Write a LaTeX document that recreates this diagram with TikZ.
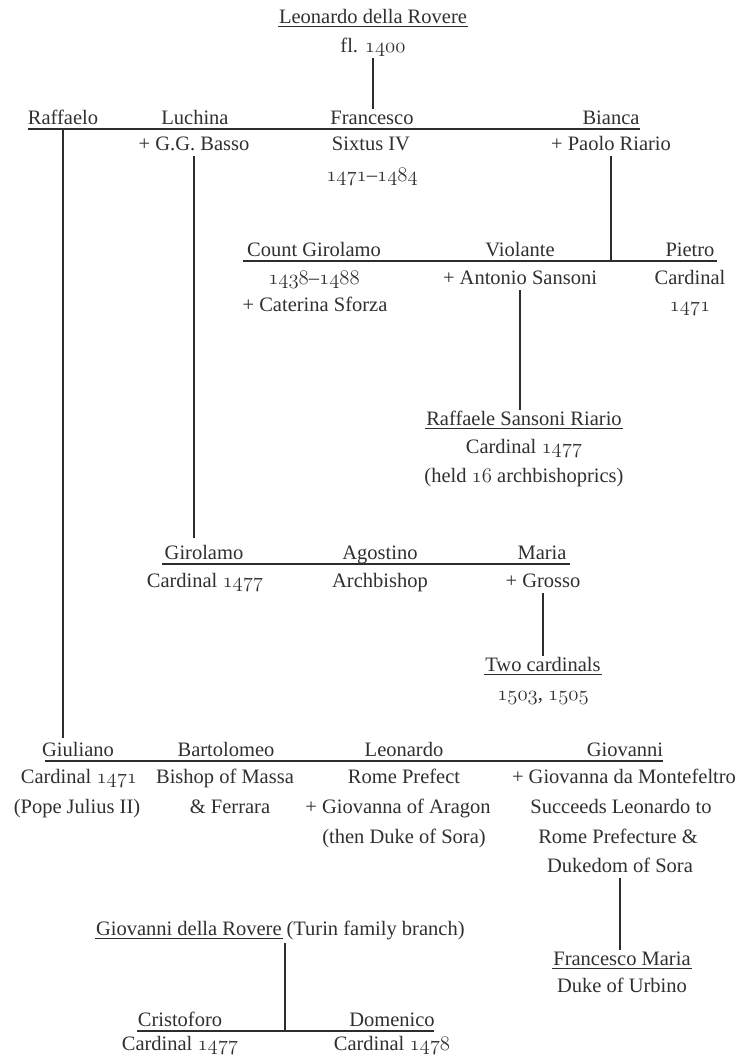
\documentclass[tikz,border=0pt]{standalone}
\usepackage{fontspec}
\setmainfont{Liberation Serif}
\definecolor{txt}{RGB}{48,48,48}
\definecolor{rulec}{RGB}{45,45,45}
\newcommand\os[1]{{\usefont{OML}{lmm}{b}{it}#1}}
\begin{document}
\begin{tikzpicture}[x=1pt,y=-1pt,
  t/.style={anchor=base, inner sep=1pt, outer sep=0pt, text height=14pt, text depth=5pt,
            font=\fontsize{20.5}{24}\selectfont, text=txt},
  rule/.style={draw=rulec, line width=1.6pt},
  conn/.style={draw=rulec, line width=1.5pt}]
\useasboundingbox[fill=white] (0,0) rectangle (743,1061);

% ---------- generation 1
\node[t] (leo) at (373,23) {Leonardo della Rovere};
\node[t] (fl) at (373,52) {fl. \os{1400}};

% ---------- row A
\coordinate (rAL) at (28,129);
\coordinate (rAR) at (640,129);
\node[t] (raffaelo) at (63,124) {Raffaelo};
\node[t] (luchina) at (195,124) {Luchina};
\node[t] (francesco) at (372,124) {Francesco};
\node[t] (bianca) at (611,124) {Bianca};
\node[t] (basso) at (194,150) {+ G.G. Basso};
\node[t] (sixtus) at (371,150) {Sixtus IV};
\node[t] (riario) at (611,150) {+ Paolo Riario};
\node[t] (fdates) at (372,181) {\os{1471}–\os{1484}};

% ---------- row B
\coordinate (rBL) at (243,261);
\coordinate (rBR) at (717,261);
\node[t] (cgir) at (314,256) {Count Girolamo};
\node[t] (violante) at (520,256) {Violante};
\node[t] (pietro) at (690,256) {Pietro};
\node[t] (cgdates) at (314,284) {\os{1438}–\os{1488}};
\node[t] (sansoni) at (520,284) {+ Antonio Sansoni};
\node[t] (pcard) at (690,284) {Cardinal};
\node[t] (caterina) at (315,311) {+ Caterina Sforza};
\node[t] (pyear) at (690,311) {\os{1471}};
\node[t] (raffaele) at (524,425) {Raffaele Sansoni Riario};
\node[t] (rcard) at (524,453) {Cardinal \os{1477}};
\node[t] (held) at (524,482) {(held \os{16} archbishoprics)};

% ---------- row C
\coordinate (rCL) at (162,564);
\coordinate (rCR) at (570,564);
\node[t] (girolamo) at (204,559) {Girolamo};
\node[t] (agostino) at (380,559) {Agostino};
\node[t] (maria) at (542,559) {Maria};
\node[t] (gcard) at (205,587) {Cardinal \os{1477}};
\node[t] (arch) at (380,587) {Archbishop};
\node[t] (grosso) at (543,587) {+ Grosso};
\node[t] (twocard) at (543,671) {Two cardinals};
\node[t] (tcyears) at (543,700) {\os{1503}, \os{1505}};

% ---------- row D
\coordinate (rDL) at (45,761);
\coordinate (rDR) at (663,761);
\node[t] (giuliano) at (78,756) {Giuliano};
\node[t] (bartolomeo) at (226,756) {Bartolomeo};
\node[t] (leonardo) at (404,756) {Leonardo};
\node[t] (giovanni) at (625,756) {Giovanni};
\node[t] (c1471) at (79,783) {Cardinal \os{1471}};
\node[t] (bishop) at (225,783) {Bishop of Massa};
\node[t] (prefect) at (404,783) {Rome Prefect};
\node[t] (montef) at (624,783) {+ Giovanna da Montefeltro};
\node[t] (julius) at (77,813) {(Pope Julius II)};
\node[t] (ferrara) at (230,813) {\& Ferrara};
\node[t] (aragon) at (398,813) {+ Giovanna of Aragon};
\node[t] (succeeds) at (621,813) {Succeeds Leonardo to};
\node[t] (sora) at (404,843) {(then Duke of Sora)};
\node[t] (prefecture) at (618,843) {Rome Prefecture \&};
\node[t] (dukedom) at (620,872) {Dukedom of Sora};
\node[t] (fmaria) at (622,965) {Francesco Maria};
\node[t] (urbino) at (622,992) {Duke of Urbino};

% ---------- Turin branch
\node[t, anchor=base west] (gdr) at (95,935) {Giovanni della Rovere};
\node[t, anchor=base west, inner sep=0pt] (turin) at ([xshift=4pt]gdr.base east) {(Turin family branch)};
\coordinate (rEL) at (137,1031);
\coordinate (rER) at (434,1031);
\coordinate (gdrdrop) at (285,943);
\node[t] (cristoforo) at (180,1026) {Cristoforo};
\node[t] (domenico) at (392,1026) {Domenico};
\node[t] (cc1477) at (180,1050) {Cardinal \os{1477}};
\node[t] (dc1478) at (392,1050) {Cardinal \os{1478}};

% ---------- sibling rules
\draw[rule] (rAL) -- (rAR);
\draw[rule] (rBL) -- (rBR);
\draw[rule] (rCL) -- (rCR);
\draw[rule] (rDL) -- (rDR);
\draw[rule] (rEL) -- (rER);

% ---------- underlines
\foreach \n in {leo,raffaele,twocard,fmaria,gdr}
  \draw[rule, line width=1.3pt] ([yshift=-3.5pt]\n.base west) -- ([yshift=-3.5pt]\n.base east);

% ---------- descent connectors
\draw[conn] (fl.south) -- (fl.south |- francesco.north);
\draw[conn] (raffaelo.south) -- ([yshift=3pt]raffaelo.south |- giuliano.north);
\draw[conn] (basso.south) -- ([yshift=6pt]basso.south |- girolamo.north);
\draw[conn] (riario.south) -- (riario.south |- rBL);
\draw[conn] (sansoni.south) -- (sansoni.south |- raffaele.north);
\draw[conn] (grosso.south) -- (grosso.south |- twocard.north);
\draw[conn] (dukedom.south) -- (dukedom.south |- fmaria.north);
\draw[conn] (gdrdrop) -- (gdrdrop |- rEL);
\end{tikzpicture}
\end{document}
